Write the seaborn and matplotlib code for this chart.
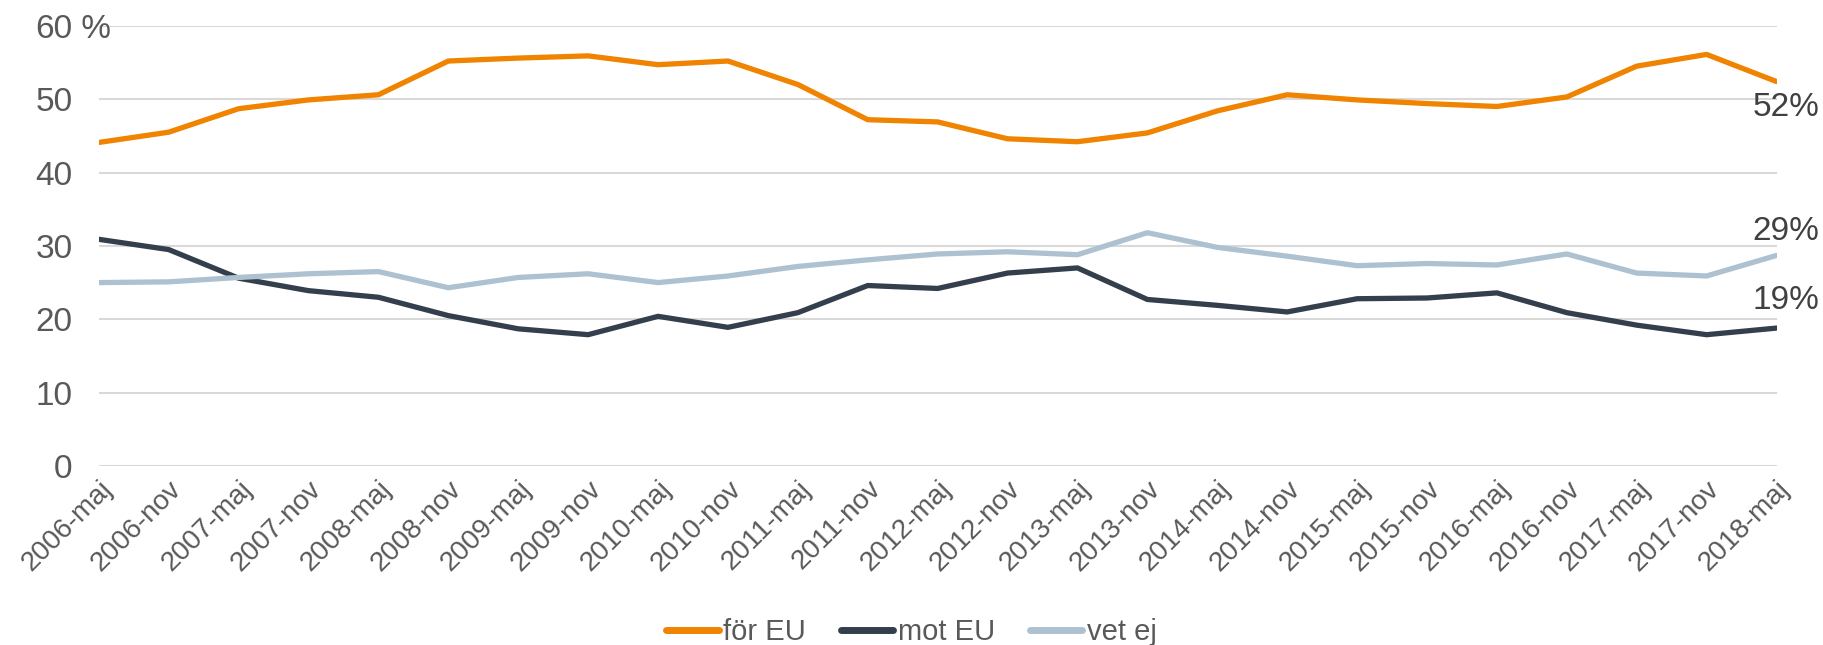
import matplotlib
matplotlib.use("Agg")
import matplotlib.pyplot as plt
import seaborn as sns
import pandas as pd
import numpy as np

periods = ["2006-maj", "2006-nov", "2007-maj", "2007-nov", "2008-maj", "2008-nov",
           "2009-maj", "2009-nov", "2010-maj", "2010-nov", "2011-maj", "2011-nov",
           "2012-maj", "2012-nov", "2013-maj", "2013-nov", "2014-maj", "2014-nov",
           "2015-maj", "2015-nov", "2016-maj", "2016-nov", "2017-maj", "2017-nov",
           "2018-maj"]
for_eu = [44.1, 45.5, 48.7, 49.9, 50.6, 55.2, 55.6, 55.9, 54.7, 55.2, 52.0, 47.2,
          46.9, 44.6, 44.2, 45.4, 48.4, 50.6, 49.9, 49.4, 49.0, 50.3, 54.5, 56.1, 52.4]
mot_eu = [30.9, 29.5, 25.6, 23.9, 23.0, 20.5, 18.7, 17.9, 20.4, 18.9, 20.9, 24.6,
          24.2, 26.3, 27.0, 22.7, 21.9, 21.0, 22.8, 22.9, 23.6, 20.9, 19.2, 17.9, 18.8]
vet_ej = [25.0, 25.1, 25.7, 26.2, 26.5, 24.3, 25.7, 26.2, 25.0, 25.9, 27.2, 28.1,
          28.9, 29.2, 28.8, 31.8, 29.8, 28.6, 27.3, 27.6, 27.4, 28.9, 26.3, 25.9, 28.7]
series_names = ["för EU", "mot EU", "vet ej"]
end_labels = ["52%", "19%", "29%"]
y_ticks = [0, 10, 20, 30, 40, 50, 60]
y_ticklabels = ["0", "10", "20", "30", "40", "50", "60"]

colors = {"för EU": "#F08300", "mot EU": "#333F4C", "vet ej": "#ADC1D0"}
text_color = "#595959"

df = pd.DataFrame({
    "idx": list(range(len(periods))) * 3,
    "value": for_eu + mot_eu + vet_ej,
    "serie": sum([[n] * len(periods) for n in series_names], []),
})

sns.set_theme(style="white")
plt.rcParams["font.family"] = ["Liberation Sans", "DejaVu Sans"]

fig = plt.figure(figsize=(18.23, 6.45), dpi=100)
ax = fig.add_axes([0.0542, 0.2775, 0.9203, 0.6825])

sns.lineplot(data=df, x="idx", y="value", hue="serie", palette=colors,
             hue_order=series_names, linewidth=3.8, ax=ax, sort=False,
             legend=True, zorder=3)

ax.set_xlim(0, len(periods) - 1)
ax.set_ylim(0, 60)
ax.set_yticks(y_ticks)
ax.set_yticklabels(y_ticklabels)
ax.set_xticks(range(len(periods)))
ax.set_xticklabels(periods, rotation=45, ha="right", rotation_mode="anchor")
ax.tick_params(axis="y", length=0, pad=19, labelsize=24, labelcolor=text_color)
ax.tick_params(axis="x", length=0, pad=7, labelsize=20, labelcolor=text_color)
ax.set_xlabel("")
ax.set_ylabel("")
ax.yaxis.grid(True, color="#D9D9D9", linewidth=1.5, zorder=0)
ax.xaxis.grid(False)
for s in ax.spines.values():
    s.set_visible(False)

# " %" after top tick label
ax.annotate(" %", xy=(0, 60), xycoords=("axes fraction", "data"),
            xytext=(-19.5, 0), textcoords="offset points",
            ha="left", va="center_baseline", fontsize=24, color=text_color)

# end labels
last = len(periods) - 1
offsets = {"för EU": -19, "mot EU": 20, "vet ej": 17}
vals = {"för EU": for_eu, "mot EU": mot_eu, "vet ej": vet_ej}
for name, lab in zip(series_names, end_labels):
    ax.annotate(lab, xy=(last, vals[name][-1]), xytext=(7, offsets[name]),
                textcoords="offset points", ha="center", va="center",
                fontsize=24, color="#404040", annotation_clip=False)

handles, labels = ax.get_legend_handles_labels()
ax.get_legend().remove()
leg = fig.legend(handles, labels, loc="center", bbox_to_anchor=(0.5, 0.02),
                 ncol=3, frameon=False, fontsize=21, handlelength=1.8,
                 handletextpad=0.15, columnspacing=1.2, labelcolor=text_color)
for h in leg.get_lines():
    h.set_linewidth(5)

fig.savefig("out.png", dpi=100)
